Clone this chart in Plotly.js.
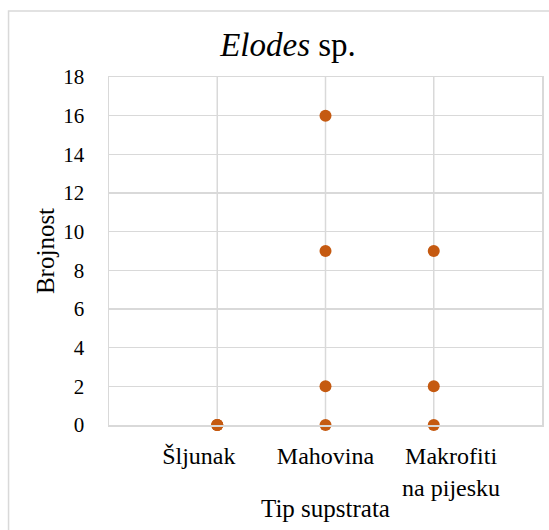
<!DOCTYPE html>
<html>
<head>
<meta charset="utf-8">
<script src="https://cdn.plot.ly/plotly-3.0.1.min.js"></script>
<style>html,body{margin:0;padding:0;background:#fff;}#chart{width:549px;height:530px;}</style>
</head>
<body>
<div id="chart"></div>
<script>
const categories = ["Šljunak", "Mahovina", "Makrofiti<br>na pijesku"];
const pointCategory = [1, 1, 1, 2, 2, 2, 2, 3, 3, 3];
const brojnost = [0, 0, 0, 16, 9, 2, 0, 9, 2, 0];

const serif = "Liberation Serif, Times New Roman, serif";
const grid = "#d9d9d9";

const trace = {
  type: "scatter",
  mode: "markers",
  x: pointCategory,
  y: brojnost,
  marker: {color: "#C55A11", size: 12},
  hoverinfo: "skip",
  cliponaxis: false
};

const layout = {
  width: 549, height: 530,
  margin: {l: 109, r: 7, t: 77, b: 105},
  paper_bgcolor: "#fff", plot_bgcolor: "#fff",
  showlegend: false,
  font: {family: serif, color: "#000", size: 20},
  title: {
    text: "<i>Elodes</i> sp.",
    font: {family: serif, size: 33, color: "#000"},
    x: 0.5246, xref: "container", xanchor: "center",
    y: 0.917, yref: "container", yanchor: "middle"
  },
  xaxis: {
    range: [0, 4],
    tickvals: [0.83, 2, 3.16],
    ticktext: categories,
    showgrid: false,
    showline: true, mirror: true, linecolor: grid, linewidth: 1.5,
    zeroline: false,
    ticks: "outside", ticklen: 9, tickcolor: "rgba(0,0,0,0)",
    tickfont: {family: serif, size: 24, color: "#000"},
    title: {text: "Tip supstrata", font: {family: serif, size: 25, color: "#000"}, standoff: 0},
    fixedrange: true
  },
  yaxis: {
    range: [0, 18],
    dtick: 2,
    showgrid: true, gridcolor: grid, gridwidth: 1.5,
    showline: true, mirror: true, linecolor: grid, linewidth: 1.5,
    zeroline: false,
    ticks: "outside", ticklen: 19, tickcolor: "rgba(0,0,0,0)",
    tickfont: {family: serif, size: 21, color: "#000"},
    title: {text: "Brojnost", font: {family: serif, size: 25, color: "#000"}, standoff: 1},
    fixedrange: true
  },
  shapes: [
    {type: "line", xref: "x", yref: "paper", x0: 1, x1: 1, y0: 0, y1: 1, line: {color: grid, width: 1.5}, layer: "below"},
    {type: "line", xref: "x", yref: "paper", x0: 2, x1: 2, y0: 0, y1: 1, line: {color: grid, width: 1.5}, layer: "below"},
    {type: "line", xref: "x", yref: "paper", x0: 3, x1: 3, y0: 0, y1: 1, line: {color: grid, width: 1.5}, layer: "below"},
    {type: "rect", xref: "paper", yref: "paper", x0: -0.232, x1: 1.134, y0: -0.388, y1: 1.19, line: {color: grid, width: 1.5}, fillcolor: "rgba(0,0,0,0)", layer: "below"}
  ]
};

Plotly.newPlot("chart", [trace], layout, {staticPlot: true, displayModeBar: false});
</script>
</body>
</html>
